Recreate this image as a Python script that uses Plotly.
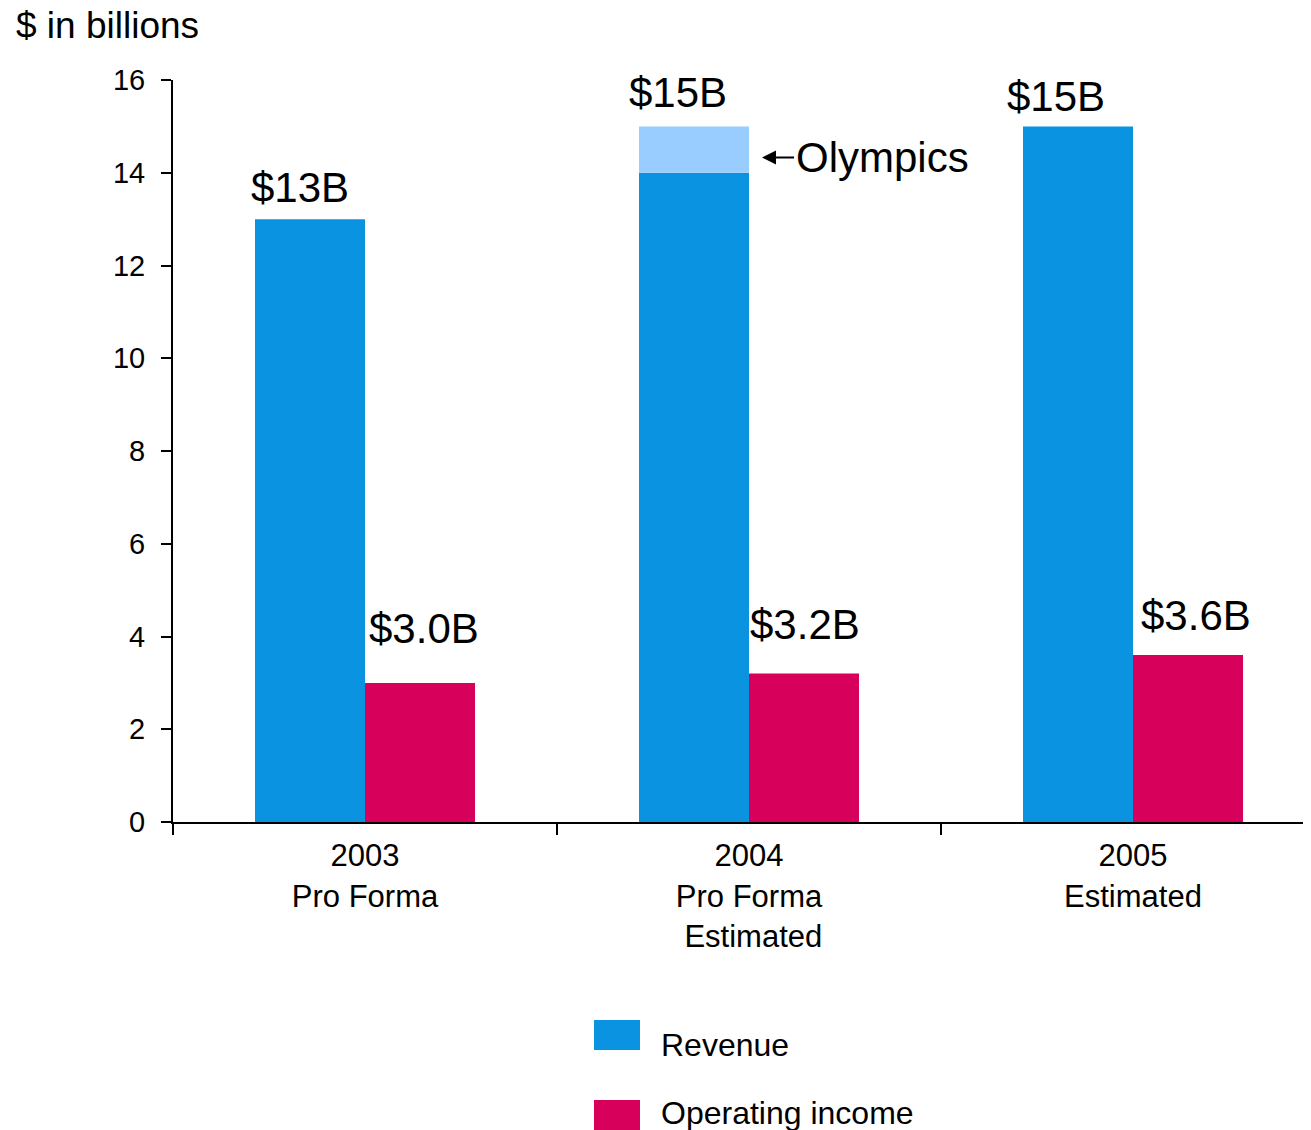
import plotly.graph_objects as go

# ---- data ----
years = ["2003", "2004", "2005"]
subtitles = ["Pro Forma", "Pro Forma<br>\u00a0Estimated", "Estimated"]
revenue = [13, 14, 15]
olympics = [0, 1, 0]
operating_income = [3.0, 3.2, 3.6]
series_names = ["Revenue", "Operating income"]
y_ticks = [0, 2, 4, 6, 8, 10, 12, 14, 16]

# ---- style ----
FONT = "Liberation Sans, Arial, sans-serif"
C_REV = "#0993E1"
C_OLY = "#99CCFF"
C_OPI = "#D7005B"
PAGE_OFF = 8  # browser body margin
W, H = 1311 - PAGE_OFF, 1130 - PAGE_OFF
L, R, T = 173 - PAGE_OFF, 0, 80 - PAGE_OFF
B = H - (822 - PAGE_OFF)
BW = 110 / 384  # bar width in category units

cats = [f"{y}<br>{s}" for y, s in zip(years, subtitles)]
totals = [r + o for r, o in zip(revenue, olympics)]

fig = go.Figure()
fig.add_trace(go.Bar(x=cats, y=revenue, name=series_names[0], marker=dict(color=C_REV, line=dict(width=0)),
                     width=BW, offset=-BW, showlegend=False))
fig.add_trace(go.Bar(x=cats, y=olympics, base=revenue, name="Olympics", marker=dict(color=C_OLY, line=dict(width=0)),
                     width=BW, offset=-BW, showlegend=False))
fig.add_trace(go.Bar(x=cats, y=operating_income, name=series_names[1], marker=dict(color=C_OPI, line=dict(width=0)),
                     width=BW, offset=0, showlegend=False))

ann = []
rev_dx = [-10, -16, -22]
rev_dy = [32, 34, 30]
opi_dx = [4, 1, 8]
opi_dy = [54, 49, 40]
for i, c in enumerate(cats):
    ann.append(dict(x=i - BW / 2, y=totals[i], xref="x", yref="y", text=f"${totals[i]:.0f}B",
                    showarrow=False, xanchor="center", yanchor="middle", xshift=rev_dx[i], yshift=rev_dy[i],
                    font=dict(size=42, color="black", family=FONT)))
    ann.append(dict(x=i + BW / 2, y=operating_income[i], xref="x", yref="y", text=f"${operating_income[i]:.1f}B",
                    showarrow=False, xanchor="center", yanchor="middle", xshift=opi_dx[i], yshift=opi_dy[i],
                    font=dict(size=42, color="black", family=FONT)))

# Olympics callout
oi = olympics.index(max(olympics))
ann.append(dict(x=oi, y=revenue[oi] + olympics[oi] / 2, xref="x", yref="y", text="Olympics",
                showarrow=True, arrowhead=2, arrowsize=1.4, arrowwidth=2, arrowcolor="black",
                ax=32, ay=0, xanchor="left", yanchor="middle", xshift=13, yshift=-8,
                font=dict(size=42, color="black", family=FONT)))

# axis title
ann.append(dict(x=0, y=1, xref="paper", yref="paper", text="$ in billions", showarrow=False,
                xanchor="left", yanchor="middle", xshift=-L + 14 - PAGE_OFF, yshift=T - (25 - PAGE_OFF),
                font=dict(size=37, color="black", family=FONT)))

# custom legend (screen pixel coords -> paper)
def px2paper(px, py):
    return (px - PAGE_OFF - L) / (W - L - R), (H - B - (py - PAGE_OFF)) / (H - T - B)

shapes = []
leg = [(series_names[0], C_REV, 1020, 1050, 1045), (series_names[1], C_OPI, 1100, 1130, 1113)]
for name, col, y0, y1, ty in leg:
    x0p, y0p = px2paper(594, y1)
    x1p, y1p = px2paper(640, y0)
    shapes.append(dict(type="rect", xref="paper", yref="paper", x0=x0p, x1=x1p, y0=y0p, y1=y1p,
                       fillcolor=col, line=dict(width=0), layer="above"))
    tx, tyy = px2paper(659, ty)
    ann.append(dict(x=tx, y=tyy, xref="paper", yref="paper", text=name, showarrow=False,
                    xanchor="left", yanchor="middle", font=dict(size=32, color="black", family=FONT)))

fig.update_layout(
    width=W, height=H, margin=dict(l=L, r=R, t=T, b=B),
    paper_bgcolor="white", plot_bgcolor="white",
    barmode="overlay", showlegend=False,
    font=dict(family=FONT, color="black"),
    annotations=ann, shapes=shapes,
    xaxis=dict(type="category", range=[-0.5, -0.5 + (W - L - R) / 384], showline=True, linecolor="black",
               linewidth=2, ticks="outside", ticklen=11, tickwidth=2, tickcolor="black", tickson="boundaries",
               showgrid=False, zeroline=False, ticklabelstandoff=5,
               tickfont=dict(size=31, family=FONT, color="black")),
    yaxis=dict(range=[0, 16], tickvals=y_ticks, showline=True, linecolor="black", linewidth=2,
               ticks="outside", ticklen=10, tickwidth=2, tickcolor="black", showgrid=False, zeroline=False,
               tickfont=dict(size=29, family=FONT, color="black"), ticklabelstandoff=10),
)

fig.write_html("out.html")
